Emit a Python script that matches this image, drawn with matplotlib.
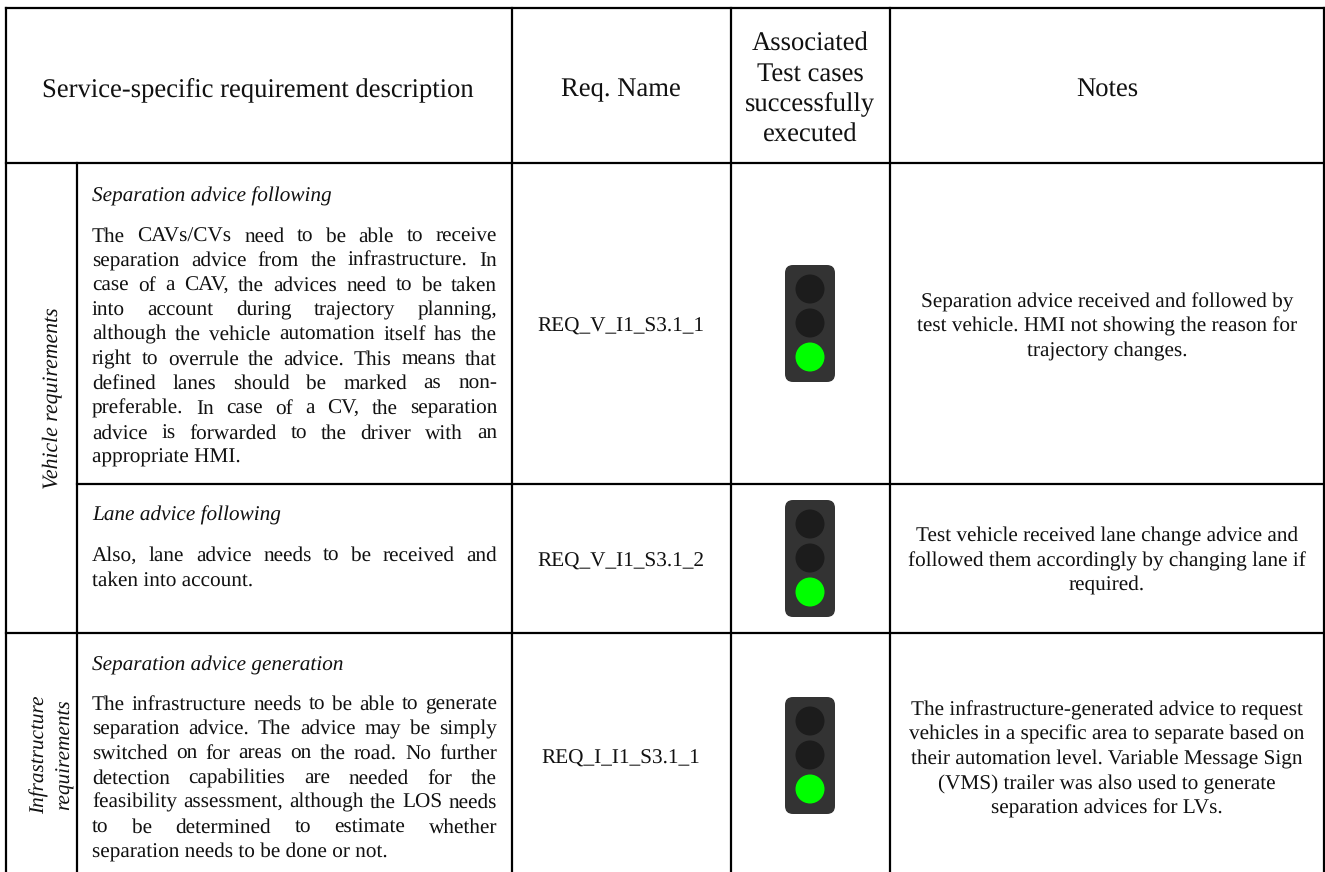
import matplotlib
matplotlib.use("Agg")
import matplotlib.pyplot as plt
from matplotlib.patches import FancyBboxPatch, Circle

plt.rcParams['font.family'] = ['Liberation Serif', 'DejaVu Serif']
plt.rcParams['text.hinting'] = 'no_hinting'
plt.rcParams['text.hinting_factor'] = 8

header_desc = "Service-specific requirement description"
header_name = "Req. Name"
header_tests = ["Associated", "Test cases", "successfully", "executed"]
header_notes = "Notes"

group_labels = [["Vehicle requirements"], ["Infrastructure", "requirements"]]

titles = ["Separation advice following", "Lane advice following", "Separation advice generation"]

body_1 = ["The CAVs/CVs need to be able to receive",
          "separation advice from the infrastructure. In",
          "case of a CAV, the advices need to be taken",
          "into account during trajectory planning,",
          "although the vehicle automation itself has the",
          "right to overrule the advice. This means that",
          "defined lanes should be marked as non-",
          "preferable. In case of a CV, the separation",
          "advice is forwarded to the driver with an",
          "appropriate HMI."]
body_2 = ["Also, lane advice needs to be received and",
          "taken into account."]
body_3 = ["The infrastructure needs to be able to generate",
          "separation advice. The advice may be simply",
          "switched on for areas on the road. No further",
          "detection capabilities are needed for the",
          "feasibility assessment, although the LOS needs",
          "to be determined to estimate whether",
          "separation needs to be done or not."]
bodies = [body_1, body_2, body_3]

req_names = ["REQ_V_I1_S3.1_1", "REQ_V_I1_S3.1_2", "REQ_I_I1_S3.1_1"]

notes_1 = ["Separation advice received and followed by",
           "test vehicle. HMI not showing the reason for",
           "trajectory changes."]
notes_2 = ["Test vehicle received lane change advice and",
           "followed them accordingly by changing lane if",
           "required."]
notes_3 = ["The infrastructure-generated advice to request",
           "vehicles in a specific area to separate based on",
           "their automation level. Variable Message Sign",
           "(VMS) trailer was also used to generate",
           "separation advices for LVs."]
notes = [notes_1, notes_2, notes_3]

# traffic-light state per row: index of the lit lamp
lit_lamp = [2, 2, 2]

W, H = 1325, 872
fig = plt.figure(figsize=(W / 100, H / 100), dpi=100, facecolor='white')
ax = fig.add_axes([0, 0, 1, 1])
ax.set_xlim(0, W)
ax.set_ylim(H, 0)
ax.axis('off')

HEAD = 19.15
BODY = 15.3
LW = 1.6
TXT = '#111111'
XL, XG, XD, XN, XT, XR = 6, 77, 512, 730.7, 890, 1324
YT, YH, Y1, Y2, YB = 8, 163.5, 484, 633, 872
cx_name, cx_test, cx_notes = 620.8, 810, 1107


def ln(x0, y0, x1, y1):
    ax.plot([x0, x1], [y0, y1], color='black', lw=LW, solid_capstyle='projecting')


def put(x, y, s, size=BODY, **kw):
    kw.setdefault('va', 'baseline')
    return ax.text(x, y, s, fontsize=size, color=TXT, **kw)


ln(XL, YT, XR, YT)
ln(XL, YH, XR, YH)
ln(XG, Y1, XR, Y1)
ln(XL, Y2, XR, Y2)
for x in (XL, XD, XN, XT, XR):
    ln(x, YT, x, YB)
ln(XG, YH, XG, YB)

put((42 + 474) / 2, 96, header_desc, HEAD, ha='center')
put(cx_name, 96, header_name, HEAD, ha='center')
put(cx_notes, 96, header_notes, HEAD, ha='center')
for s, y in zip(header_tests, (50.5, 80.5, 110.5, 141.5)):
    put(cx_test, y, s, HEAD, ha='center')

put(57, 398.5, group_labels[0][0], 15.65, style='italic', rotation=90,
    ha='center', rotation_mode='anchor')
for s, x in zip(group_labels[1], (45, 70)):
    put(x, 755, s, BODY, style='italic', rotation=90,
        ha='center', rotation_mode='anchor')

renderer = fig.canvas.get_renderer()


def width(s):
    t = ax.text(0, 0, s, fontsize=BODY)
    w = t.get_window_extent(renderer).width
    t.remove()
    return w


TX0, TX1 = 92, 497


def justified(lines, y0, pitch):
    for i, line in enumerate(lines):
        y = y0 + i * pitch
        if i == len(lines) - 1:
            put(TX0, y, line)
            continue
        words = line.split(' ')
        ws = [width(w) for w in words]
        gap = (TX1 - TX0 - sum(ws)) / (len(words) - 1)
        x = TX0
        for w, wd in zip(words, ws):
            put(x, y, w)
            x += wd + gap


for s, y in zip(titles, (201.5, 520.5, 670.5)):
    put(TX0, y, s, style='italic')
for b, y in zip(bodies, (241.5, 561, 709.5)):
    justified(b, y, 24.6)

for s, y in zip(req_names, (331.5, 566.5, 763.5)):
    put(cx_name, y, s, ha='center')

for n, y in zip(notes, (307, 541.5, 715.5)):
    for i, s in enumerate(n):
        put(cx_notes, y + i * 24.5, s, ha='center')

for top, lamp in zip((265, 500, 697), lit_lamp):
    pad = 8
    ax.add_patch(FancyBboxPatch((785 + pad, top + pad), 50 - 2 * pad, 117 - 2 * pad,
                                boxstyle=f"round,pad={pad},rounding_size={pad}",
                                fc='#333333', ec='none', zorder=3))
    for k in range(3):
        ax.add_patch(Circle((810, top + 24 + 34 * k), 14.5,
                            fc='#00ff00' if k == lamp else '#1c1c1c', ec='none', zorder=4))

fig.savefig('out.png', dpi=100)
